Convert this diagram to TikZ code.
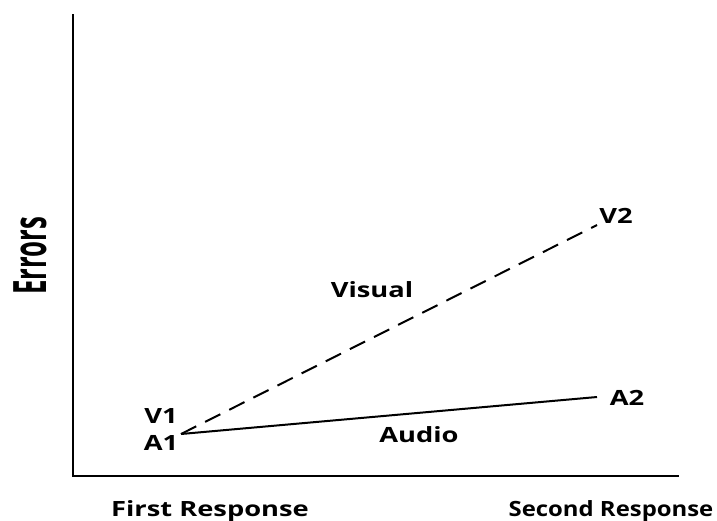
\documentclass[tikz,border=0pt]{standalone}
\usepackage{fontspec}
\setmainfont{Open Sans}
\begin{document}
\begin{tikzpicture}[x=1pt,y=-1pt,
  lbl/.style={font=\bfseries\fontsize{21}{24}\selectfont, inner sep=0pt, anchor=base, xscale=1.3},
  axis/.style={line width=1.8pt},
  trend/.style={line width=2pt}]
\useasboundingbox (0,0) rectangle (717,520);
% axes
\coordinate (ytop) at (73,14);
\coordinate (origin) at (73,476);
\coordinate (xend) at (679,476);
\draw[axis] (ytop) -- (origin) -- (xend);
% data points
\coordinate (p1) at (181,434);
\coordinate (a2) at (597,397);
\coordinate (v2) at (597,225);
\draw[trend] (p1) -- (a2);
\draw[trend, dash pattern=on 17pt off 10pt] (p1) -- (v2);
% labels
\node[lbl] (V1) at (161,423) {V1};
\node[lbl] (A1) at (161,450) {A1};
\node[lbl] (V2) at (616,223) {V2};
\node[lbl] (A2) at (627,405) {A2};
\node[lbl] (Visual) at (372,297) {Visual};
\node[lbl] (Audio) at (419,442) {Audio};
\node[lbl] (first) at (210,516) {First Response};
\node[lbl, xscale=0.875] (second) at (611,516) {Second Response};
\node[inner sep=0pt, rotate=90, font=\fontsize{46}{50}\selectfont\bfseries, xscale=0.56] (err) at (30,256) {Errors};
\end{tikzpicture}
\end{document}
